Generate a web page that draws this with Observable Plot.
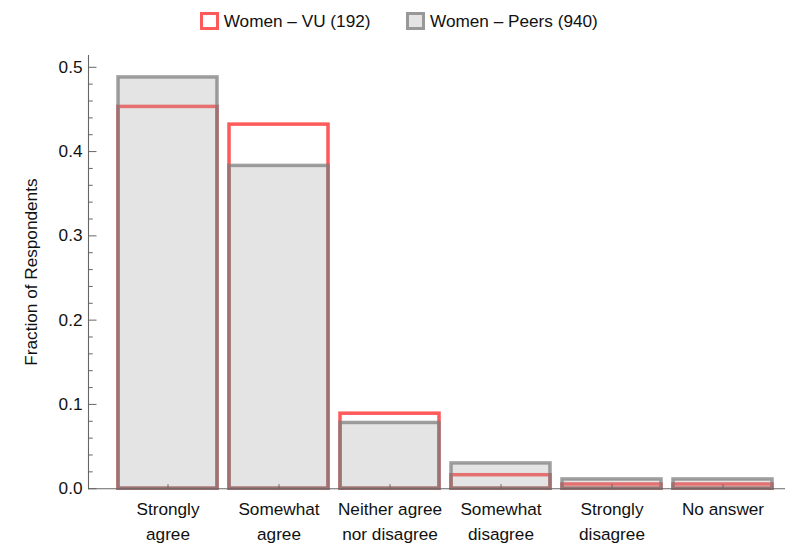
<!DOCTYPE html>
<html>
<head>
<meta charset="utf-8">
<script src="https://cdn.jsdelivr.net/npm/d3@7"></script>
<script src="https://cdn.jsdelivr.net/npm/@observablehq/plot@0.6"></script>
<style>
  body { margin: 0; background: #fff; font-family: "Liberation Sans", Arial, sans-serif; color: #111; }
  #legend { height: 42px; display: flex; justify-content: center; align-items: center; padding-left: 13px; box-sizing: border-box; width: 785px; font-size: 17.2px; }
  .item { display: flex; align-items: center; margin: 0 18px; }
  .sw { width: 18.5px; height: 18.5px; box-sizing: border-box; border-width: 3.5px; border-style: solid; margin-right: 5px; }
</style>
</head>
<body>
<div id="legend"></div>
<div id="chart"></div>
<script>
const categories = ["Strongly agree", "Somewhat agree", "Neither agree nor disagree", "Somewhat disagree", "Strongly disagree", "No answer"];
const tickLabels = ["Strongly\nagree", "Somewhat\nagree", "Neither agree\nnor disagree", "Somewhat\ndisagree", "Strongly\ndisagree", "No answer"];
const vuValues = [0.453, 0.432, 0.089, 0.016, 0.005, 0.005];
const peersValues = [0.488, 0.383, 0.078, 0.030, 0.011, 0.011];
const seriesNames = ["Women – VU (192)", "Women – Peers (940)"];
const yTicks = [0, 0.1, 0.2, 0.3, 0.4, 0.5];
const yMinorTicks = [0.02, 0.04, 0.06, 0.08, 0.12, 0.14, 0.16, 0.18, 0.22, 0.24, 0.26, 0.28, 0.32, 0.34, 0.36, 0.38, 0.42, 0.44, 0.46, 0.48];

const red = "rgb(255,90,90)";
const grayStroke = "rgb(121,121,121)";
const grayFill = "rgb(165,165,165)";
const axisColor = "#666";
const textColor = "#111";
const fontSize = 17.2;

const vu = categories.map((c, i) => ({cat: c, v: vuValues[i]}));
const peers = categories.map((c, i) => ({cat: c, v: peersValues[i]}));

// legend
const legend = document.getElementById("legend");
[[seriesNames[0], "none", 0, red, 1], [seriesNames[1], grayFill, 0.3, grayStroke, 0.71]].forEach(([name, fill, fo, stroke, so]) => {
  const item = document.createElement("div");
  item.className = "item";
  const sw = document.createElement("div");
  sw.className = "sw";
  const sc = d3.color(stroke); sc.opacity = so;
  sw.style.borderColor = sc.formatRgb();
  if (fill !== "none") { const fc = d3.color(fill); fc.opacity = fo; sw.style.background = fc.formatRgb(); }
  const t = document.createElement("span");
  t.textContent = name;
  item.append(sw, t);
  legend.append(item);
});

const chart = Plot.plot({
  width: 785,
  height: 511,
  marginLeft: 88,
  marginRight: 0,
  marginTop: 13,
  marginBottom: 64.8,
  style: {fontFamily: "'Liberation Sans', Arial, sans-serif", fontSize: fontSize + "px", color: textColor, background: "#fff"},
  x: {type: "band", domain: categories, range: [109.5, 780.3], paddingInner: 0.108, paddingOuter: 0.054},
  y: {domain: [0, 0.514]},
  marks: [
    Plot.barY(vu, {x: "cat", y: "v", fill: "none", stroke: red, strokeWidth: 3.5}),
    Plot.barY(peers, {x: "cat", y: "v", fill: grayFill, fillOpacity: 0.3, stroke: grayStroke, strokeOpacity: 0.71, strokeWidth: 3.5}),
    Plot.ruleY([0], {stroke: axisColor, strokeWidth: 1.1}),
    Plot.frame({anchor: "left", stroke: axisColor, strokeWidth: 1.1}),
    Plot.axisY({ticks: yTicks, tickSize: -8.5, tickFormat: () => "", stroke: axisColor, label: null}),
    Plot.axisY({ticks: yMinorTicks, tickSize: -4.7, tickFormat: () => "", stroke: axisColor, label: null}),
    Plot.axisY({ticks: yTicks, tickSize: 0, tickPadding: 6, tickFormat: d3.format(".1f"), fill: textColor, fontSize,
      label: "Fraction of Respondents", labelAnchor: "center", labelArrow: "none", labelOffset: 64}),
    Plot.axisX({tickSize: -4, tickFormat: () => "", stroke: axisColor, label: null}),
    Plot.axisX({tickSize: 0, tickPadding: 9, tickFormat: d => tickLabels[categories.indexOf(d)], lineHeight: 1.45, fill: textColor, fontSize, label: null})
  ]
});
document.getElementById("chart").append(chart);
</script>
</body>
</html>
